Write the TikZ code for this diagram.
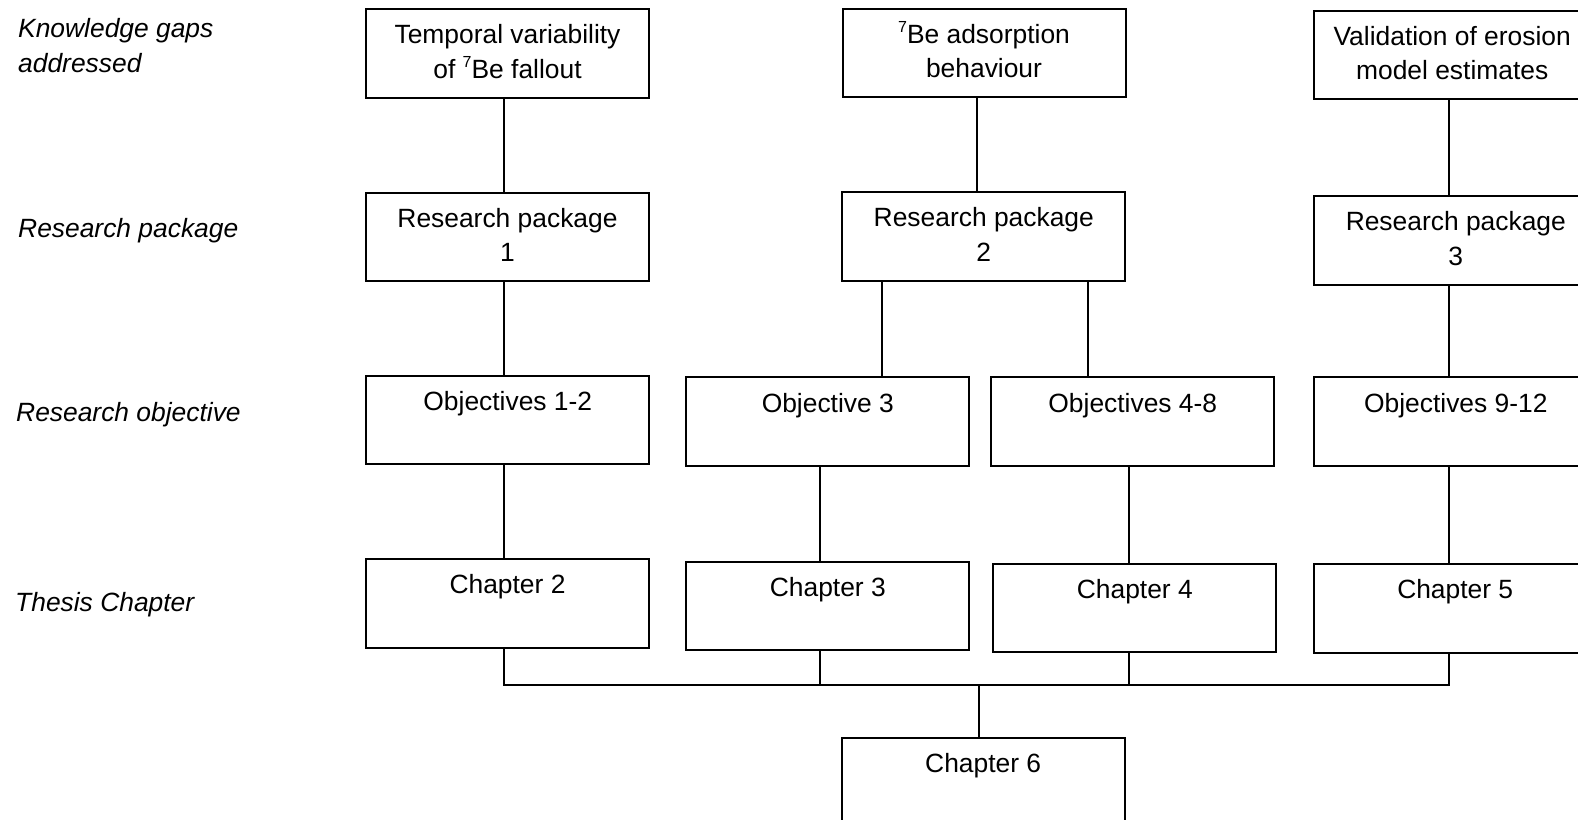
\documentclass[tikz,border=0pt]{standalone}
\usepackage{fontspec}
\setmainfont{Liberation Sans}
\newcommand{\firstline}{\rule{0pt}{35.4pt}}
\newcommand{\supseven}{\raisebox{0.42em}{\fontsize{16}{16}\selectfont 7}}
\tikzset{
  boxst/.style={draw, line width=2pt, minimum width=283pt, minimum height=88.5pt, inner sep=0pt, anchor=north west},
  txt/.style={inner sep=0pt, anchor=north, align=center, font=\fontsize{26.4}{34.5}\selectfont},
  lab/.style={inner sep=0pt, align=left, font=\fontsize{26.4}{35}\selectfont\itshape},
  link/.style={line width=1.9pt},
}
\begin{document}
\begin{tikzpicture}[x=1pt, y=-1pt]
\useasboundingbox (0,0) rectangle (1578,819);
\clip (0,0) rectangle (1578,819);
\fill[white] (0,0) rectangle (1578,819);

% column coordinates
\coordinate (colA) at (504,0);
\coordinate (colB) at (976.7,0);
\coordinate (colC) at (1449,0);
\coordinate (colD) at (881.6,0);
\coordinate (colE) at (1087.9,0);
\coordinate (colF) at (820.2,0);
\coordinate (colG) at (1129.2,0);
\coordinate (colH) at (979.3,0);
\coordinate (busL) at (504,685);
\coordinate (busR) at (1449,685);

% left labels
\node[lab, anchor=north west] (lkg) at (18,3.3) {\rule{0pt}{34.4pt}Knowledge gaps\\addressed};
\node[lab, anchor=base west] (lrp) at (18,237.5) {Research package};
\node[lab, anchor=base west] (lro) at (16,421.5) {Research objective};
\node[lab, anchor=base west] (ltc) at (15,611.5) {Thesis Chapter};

% row 1
\node[boxst] (g1) at (365,8.3) {};
\node[boxst] (g2) at (841.5,7.5) {};
\node[boxst] (g3) at (1312.7,9.5) {};
\node[txt] (g1t) at (g1.north) {\firstline Temporal variability\\of \supseven Be fallout};
\node[txt] (g2t) at (g2.north) {\firstline\supseven Be adsorption\\behaviour};
\node[txt, xshift=-3pt] (g3t) at (g3.north) {\firstline Validation of erosion\\model estimates};

% row 2
\node[boxst] (rp1) at (365,191.5) {};
\node[boxst] (rp2) at (841.3,191.3) {};
\node[boxst] (rp3) at (1313.3,195.3) {};
\node[txt] (rp1t) at (rp1.north) {\firstline Research package\\1};
\node[txt] (rp2t) at (rp2.north) {\firstline Research package\\2};
\node[txt] (rp3t) at (rp3.north) {\firstline Research package\\3};

% row 3
\node[boxst] (o12) at (365.3,374.5) {};
\node[boxst] (o3) at (685.3,376.4) {};
\node[boxst] (o48) at (990.3,376.4) {};
\node[boxst] (o912) at (1313.3,376.4) {};
\node[txt] (o12t) at (o12.north) {\firstline Objectives 1-2};
\node[txt] (o3t) at (o3.north) {\firstline Objective 3};
\node[txt] (o48t) at (o48.north) {\firstline Objectives 4-8};
\node[txt] (o912t) at (o912.north) {\firstline Objectives 9-12};

% row 4
\node[boxst] (c2) at (365,558.3) {};
\node[boxst] (c3) at (685.3,560.5) {};
\node[boxst] (c4) at (992.3,562.6) {};
\node[boxst] (c5) at (1312.7,563.3) {};
\node[txt] (c2t) at (c2.north) {\firstline Chapter 2};
\node[txt] (c3t) at (c3.north) {\firstline Chapter 3};
\node[txt] (c4t) at (c4.north) {\firstline Chapter 4};
\node[txt] (c5t) at (c5.north) {\firstline Chapter 5};

% chapter 6
\node[boxst] (c6) at (840.7,737) {};
\node[txt] (c6t) at (c6.north) {\firstline Chapter 6};

% connectors
\draw[link] (g1.south -| colA) -- (rp1.north -| colA);
\draw[link] (g2.south -| colB) -- (rp2.north -| colB);
\draw[link] (g3.south -| colC) -- (rp3.north -| colC);
\draw[link] (rp1.south -| colA) -- (o12.north -| colA);
\draw[link] (rp2.south -| colD) -- (o3.north -| colD);
\draw[link] (rp2.south -| colE) -- (o48.north -| colE);
\draw[link] (rp3.south -| colC) -- (o912.north -| colC);
\draw[link] (o12.south -| colA) -- (c2.north -| colA);
\draw[link] (o3.south -| colF) -- (c3.north -| colF);
\draw[link] (o48.south -| colG) -- (c4.north -| colG);
\draw[link] (o912.south -| colC) -- (c5.north -| colC);

% bus
\draw[link] (c2.south -| colA) -- (busL) -- (busR) -- (c5.south -| colC);
\draw[link] (c3.south -| colF) -- (colF |- busL);
\draw[link] (c4.south -| colG) -- (colG |- busL);
\draw[link] (colH |- busL) -- (c6.north -| colH);
\end{tikzpicture}
\end{document}
